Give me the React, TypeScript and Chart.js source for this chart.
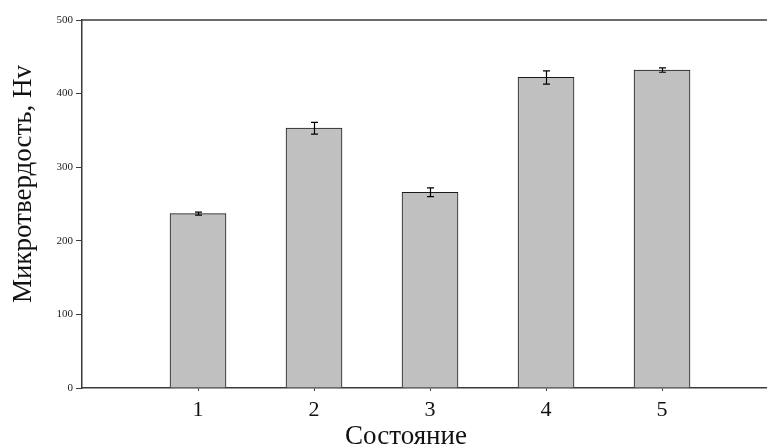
import React, { useEffect, useRef } from "react";
import { Chart, registerables } from "chart.js";

Chart.register(...registerables);

const categories = ["1", "2", "3", "4", "5"];
const positions = [1, 2, 3, 4, 5];
const hardness = [237, 353, 266, 422, 432];
const errors = [2, 8, 6, 9, 3];
const yTicks = [0, 100, 200, 300, 400, 500];
const xTitle = "Состояние";
const yTitle = "Микротвердость, Hv";

const FONT = "'Liberation Serif', 'DejaVu Serif', serif";
const AXIS = "#3a3a3a";

const extrasPlugin = {
  id: "extras",
  afterDatasetsDraw(chart: any) {
    const { ctx, chartArea, scales } = chart;
    const x = scales.x;
    const y = scales.y;
    ctx.save();
    // error bars
    ctx.strokeStyle = "#000";
    ctx.lineWidth = 1.2;
    positions.forEach((p, i) => {
      const px = Math.round(x.getPixelForValue(p)) + 0.5;
      const hi = y.getPixelForValue(hardness[i] + errors[i]);
      const lo = y.getPixelForValue(hardness[i] - errors[i]);
      ctx.beginPath();
      ctx.moveTo(px, hi);
      ctx.lineTo(px, lo);
      ctx.moveTo(px - 3.5, hi);
      ctx.lineTo(px + 3.5, hi);
      ctx.moveTo(px - 3.5, lo);
      ctx.lineTo(px + 3.5, lo);
      ctx.stroke();
    });
    // top frame line
    ctx.strokeStyle = AXIS;
    ctx.lineWidth = 1.5;
    ctx.beginPath();
    ctx.moveTo(chartArea.left, chartArea.top);
    ctx.lineTo(chartArea.right, chartArea.top);
    ctx.stroke();
    // titles
    ctx.fillStyle = "#111";
    ctx.textAlign = "center";
    ctx.textBaseline = "middle";
    ctx.font = `27px ${FONT}`;
    ctx.fillText(xTitle, 406, 437);
    ctx.save();
    ctx.translate(24, 184);
    ctx.rotate(-Math.PI / 2);
    ctx.font = `27px ${FONT}`;
    ctx.fillText(yTitle, 0, 0);
    ctx.restore();
    ctx.restore();
  },
};

export default function App() {
  const ref = useRef<HTMLCanvasElement>(null);
  useEffect(() => {
    const chart = new Chart(ref.current as HTMLCanvasElement, {
      type: "bar",
      data: {
        labels: categories,
        datasets: [
          {
            data: positions.map((p, i) => ({ x: p, y: hardness[i] })),
            backgroundColor: "#c0c0c0",
            borderColor: "#1a1a1a",
            borderWidth: 1,
            barThickness: 56,
          },
        ],
      },
      options: {
        animation: false,
        responsive: false,
        layout: { padding: { top: 20, right: 0, left: 0, bottom: 0 } },
        plugins: { legend: { display: false }, tooltip: { enabled: false } },
        scales: {
          x: {
            type: "linear",
            min: 0,
            max: 5.905,
            offset: false,
            afterFit: (s: any) => {
              s.height = 60;
            },
            afterBuildTicks: (s: any) => {
              s.ticks = positions.map((v) => ({ value: v }));
            },
            ticks: {
              stepSize: 1,
              callback: (v: any) => {
                const i = positions.indexOf(Number(v));
                return i >= 0 ? categories[i] : "";
              },
              font: { family: FONT, size: 22 },
              color: "#111",
              padding: 6,
              maxRotation: 0,
            },
            grid: {
              offset: false,
              drawOnChartArea: false,
              tickLength: 3,
              color: AXIS,
            },
            border: { color: AXIS, width: 1.5 },
          },
          y: {
            min: 0,
            max: 500,
            afterFit: (s: any) => {
              s.width = 82;
            },
            afterBuildTicks: (s: any) => {
              s.ticks = yTicks.map((v) => ({ value: v }));
            },
            ticks: {
              font: { family: FONT, size: 11 },
              color: "#222",
              padding: 3,
            },
            grid: {
              drawOnChartArea: false,
              tickLength: 6,
              color: AXIS,
            },
            border: { color: AXIS, width: 1.5 },
          },
        },
      },
      plugins: [extrasPlugin],
    } as any);
    return () => chart.destroy();
  }, []);
  return (
    <div style={{ position: "absolute", left: 0, top: 0, width: 767, height: 448, background: "#fff" }}>
      <canvas ref={ref} width={767} height={448} />
    </div>
  );
}
